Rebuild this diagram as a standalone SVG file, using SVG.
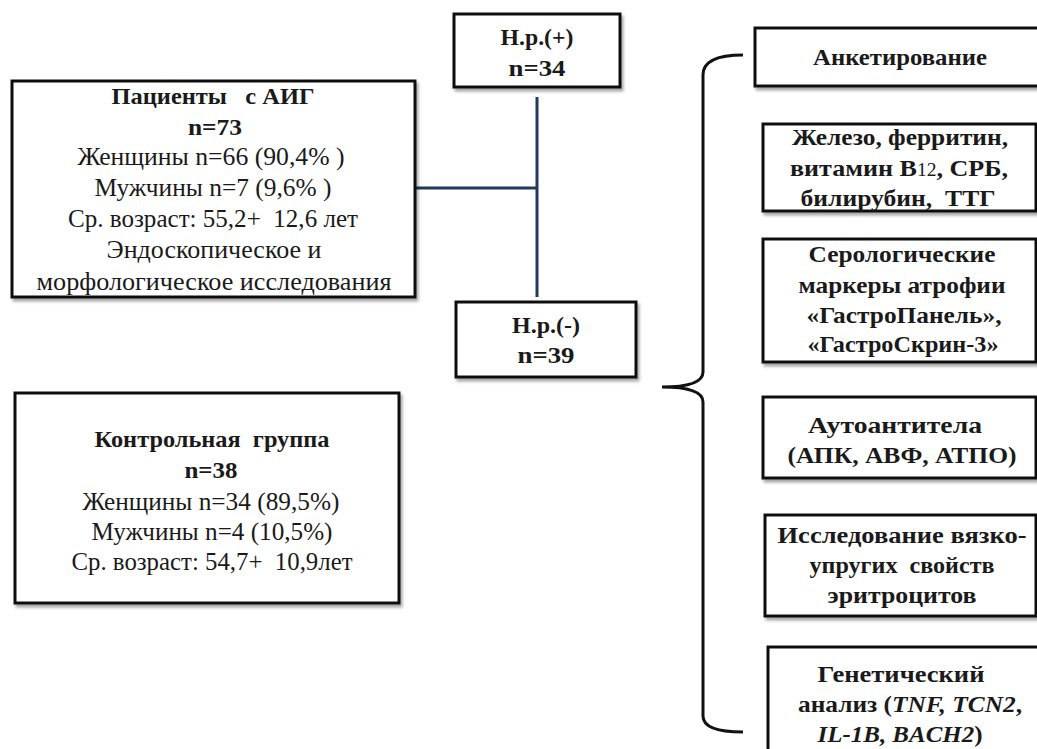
<svg xmlns="http://www.w3.org/2000/svg" width="1037" height="749" viewBox="0 0 1037 749" font-family="Liberation Serif, serif">
<style>
.box{fill:#fff;stroke:#111;stroke-width:3;filter:url(#sh)}
.t{font-size:25px;fill:#1a1a1a;text-anchor:middle;white-space:pre}
.b{font-weight:bold;font-size:24px}
.con{fill:none;stroke:#1f3a5a;stroke-width:3}
.br{fill:none;stroke:#111;stroke-width:3}
</style>
<defs>
<filter id="sh" x="-5%" y="-5%" width="115%" height="120%">
<feDropShadow dx="2" dy="3" stdDeviation="1.5" flood-color="#000" flood-opacity="0.35"/>
</filter>
</defs>
<rect width="1037" height="749" fill="#fff"/>
<g id="connectors">
<path class="con" d="M415,188 H537"/>
<path class="con" d="M537,97 V297"/>
<path class="br" d="M743,55 Q703,55 703,75 L703,372 Q703,387 662,387 Q703,387 703,402 L703,716 Q703,732 743,732"/>
</g>
<g id="patients">
<rect class="box" x="12" y="81" width="403" height="216"/>
<text class="t b" x="213" y="104" textLength="203" lengthAdjust="spacingAndGlyphs">Пациенты   с АИГ</text>
<text class="t b" x="215" y="135" textLength="54" lengthAdjust="spacingAndGlyphs">n=73</text>
<text class="t" x="211" y="165" textLength="267" lengthAdjust="spacingAndGlyphs">Женщины n=66 (90,4% )</text>
<text class="t" x="213" y="196" textLength="237" lengthAdjust="spacingAndGlyphs">Мужчины n=7 (9,6% )</text>
<text class="t" x="213" y="227" textLength="290" lengthAdjust="spacingAndGlyphs">Ср. возраст: 55,2+  12,6 лет</text>
<text class="t" x="214" y="258" textLength="215" lengthAdjust="spacingAndGlyphs">Эндоскопическое и</text>
<text class="t" x="214" y="290" textLength="355" lengthAdjust="spacingAndGlyphs">морфологическое исследования</text>
</g>
<g id="control">
<rect class="box" x="15" y="393" width="384" height="210"/>
<text class="t b" x="212" y="447" textLength="235" lengthAdjust="spacingAndGlyphs">Контрольная  группа</text>
<text class="t b" x="211" y="478" textLength="53" lengthAdjust="spacingAndGlyphs">n=38</text>
<text class="t" x="211" y="510" textLength="257" lengthAdjust="spacingAndGlyphs">Женщины n=34 (89,5%)</text>
<text class="t" x="212" y="540" textLength="241" lengthAdjust="spacingAndGlyphs">Мужчины n=4 (10,5%)</text>
<text class="t" x="212" y="570" textLength="281" lengthAdjust="spacingAndGlyphs">Ср. возраст: 54,7+  10,9лет</text>
</g>
<g id="hp-pos">
<rect class="box" x="454" y="14" width="166" height="73"/>
<text class="t b" x="537" y="45" textLength="73" lengthAdjust="spacingAndGlyphs">H.p.(+)</text>
<text class="t b" x="537" y="76" textLength="57" lengthAdjust="spacingAndGlyphs">n=34</text>
</g>
<g id="hp-neg">
<rect class="box" x="456" y="302" width="180" height="75"/>
<text class="t b" x="546" y="333" textLength="68" lengthAdjust="spacingAndGlyphs">H.p.(-)</text>
<text class="t b" x="546" y="363" textLength="57" lengthAdjust="spacingAndGlyphs">n=39</text>
</g>
<g id="survey">
<rect class="box" x="755" y="28" width="300" height="58"/>
<text class="t b" x="900" y="65" textLength="174" lengthAdjust="spacingAndGlyphs">Анкетирование</text>
</g>
<g id="lab">
<rect class="box" x="763" y="124" width="273" height="87"/>
<text class="t b" x="900" y="145" textLength="216" lengthAdjust="spacingAndGlyphs">Железо, ферритин,</text>
<text class="t b" x="899" y="176" textLength="218" lengthAdjust="spacingAndGlyphs">витамин В<tspan font-size="18" font-weight="normal">12</tspan>, СРБ,</text>
<text class="t b" x="898" y="206" textLength="195" lengthAdjust="spacingAndGlyphs">билирубин,  ТТГ</text>
</g>
<g id="serology">
<rect class="box" x="763" y="239" width="273" height="123"/>
<text class="t b" x="902" y="262" textLength="187" lengthAdjust="spacingAndGlyphs">Серологические</text>
<text class="t b" x="902" y="293" textLength="207" lengthAdjust="spacingAndGlyphs">маркеры атрофии</text>
<text class="t b" x="904" y="323" textLength="195" lengthAdjust="spacingAndGlyphs">«ГастроПанель»,</text>
<text class="t b" x="903" y="352" textLength="191" lengthAdjust="spacingAndGlyphs">«ГастроСкрин-3»</text>
</g>
<g id="autoantibodies">
<rect class="box" x="763" y="397" width="273" height="81"/>
<text class="t b" x="895" y="433" textLength="174" lengthAdjust="spacingAndGlyphs">Аутоантитела</text>
<text class="t b" x="902" y="463" textLength="229" lengthAdjust="spacingAndGlyphs">(АПК, АВФ, АТПО)</text>
</g>
<g id="erythrocytes">
<rect class="box" x="765" y="515" width="271" height="101"/>
<text class="t b" x="902" y="543" textLength="249" lengthAdjust="spacingAndGlyphs">Исследование вязко-</text>
<text class="t b" x="902" y="573" textLength="185" lengthAdjust="spacingAndGlyphs">упругих  свойств</text>
<text class="t b" x="902" y="603" textLength="149" lengthAdjust="spacingAndGlyphs">эритроцитов</text>
</g>
<g id="genetic">
<rect class="box" x="768" y="647" width="290" height="120"/>
<text class="t b" x="901" y="682" textLength="167" lengthAdjust="spacingAndGlyphs">Генетический</text>
<text class="t b" x="910" y="712" textLength="224" lengthAdjust="spacingAndGlyphs">анализ (<tspan font-style="italic">TNF, TCN2</tspan>,</text>
<text class="t b" x="900" y="742" textLength="165" lengthAdjust="spacingAndGlyphs"><tspan font-style="italic">IL-1B, BACH2</tspan>)</text>
</g>
</svg>
